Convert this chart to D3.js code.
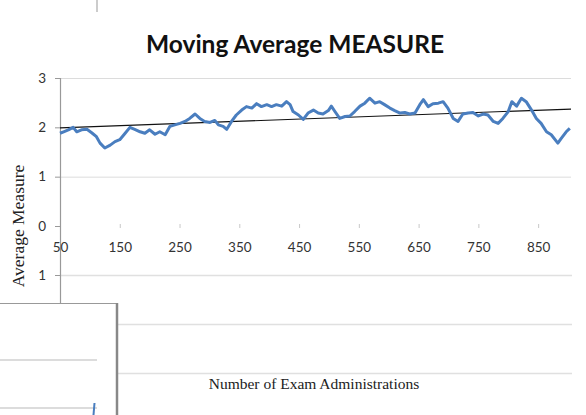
<!DOCTYPE html>
<html>
<head>
<meta charset="utf-8">
<script src="https://cdn.jsdelivr.net/npm/d3@7"></script>
<style>
  html, body { margin: 0; padding: 0; background: #fff; }
  svg { display: block; }
</style>
</head>
<body>
<svg id="chart" width="586" height="415"></svg>
<script>
// ---- data ----
const title = "Moving Average MEASURE";
const xTitle = "Number of Exam Administrations";
const yTitle = "Average Measure";
const xTicks = [50, 150, 250, 350, 450, 550, 650, 750, 850];
const yTicks = [0, 1, 2, 3];
const yGrid = [1, 3];
const lowerYTicks = [1];
const lowerGrid = [1, 0, -1];
const boxGrid = [0, -1];

const administrations = [50, 56, 64, 72, 78, 86, 95, 103, 111, 117, 125, 134, 142, 150, 159, 167, 175, 184, 192, 200,
  209, 217, 226, 234, 242, 251, 259, 267, 276, 284, 292, 301, 309, 315, 323, 329, 337, 345, 354, 362,
  371, 379, 387, 396, 404, 412, 421, 429, 435, 440, 449, 457, 465, 474, 482, 490, 499, 504, 510, 518,
  527, 535, 543, 552, 560, 568, 577, 585, 593, 602, 610, 619, 627, 635, 644, 652, 658, 666, 674, 683,
  691, 699, 708, 716, 724, 733, 741, 750, 758, 766, 775, 783, 791, 800, 806, 814, 822, 830, 839, 847,
  855, 864, 872, 881, 883, 889, 897, 903];
const movingAverage = [1.88, 1.91, 1.95, 2.00, 1.91, 1.95, 1.96, 1.89, 1.81, 1.68, 1.58, 1.64, 1.71, 1.75, 1.88, 2.00, 1.96, 1.91, 1.88, 1.95,
  1.86, 1.91, 1.85, 2.02, 2.05, 2.08, 2.12, 2.18, 2.27, 2.18, 2.12, 2.10, 2.14, 2.05, 2.02, 1.96, 2.12, 2.25, 2.35, 2.42,
  2.39, 2.48, 2.42, 2.46, 2.42, 2.46, 2.43, 2.52, 2.46, 2.32, 2.25, 2.16, 2.29, 2.35, 2.29, 2.27, 2.34, 2.43, 2.32, 2.18,
  2.22, 2.23, 2.32, 2.43, 2.49, 2.59, 2.49, 2.52, 2.46, 2.39, 2.34, 2.29, 2.30, 2.27, 2.29, 2.46, 2.56, 2.42, 2.48, 2.49,
  2.52, 2.39, 2.18, 2.12, 2.27, 2.29, 2.30, 2.23, 2.27, 2.25, 2.12, 2.08, 2.18, 2.32, 2.52, 2.43, 2.59, 2.52, 2.35, 2.18,
  2.08, 1.91, 1.85, 1.71, 1.68, 1.78, 1.91, 1.98];
const trendX = [50, 905];
const trendY = [1.99, 2.37];

// ---- drawing ----
const svg = d3.select("#chart");
const x = d3.scaleLinear().domain([50, 905]).range([60, 571]);
const y = d3.scaleLinear().domain([0, 3]).range([226, 78]);
const yLower = d3.scaleLinear().domain([-1, 1]).range([373, 275]);
const yBox = d3.scaleLinear().domain([-1, 0]).range([408, 360]);

const tickFont = "Lato, 'Open Sans', sans-serif";
const serif = "'Liberation Serif', 'DejaVu Serif', serif";

// title
svg.append("text")
  .attr("x", 295).attr("y", 53)
  .attr("text-anchor", "middle")
  .attr("font-family", tickFont)
  .attr("font-weight", "bold")
  .attr("font-size", 24.5)
  .attr("fill", "#111")
  .text(title);

// small stray line at top
svg.append("line").attr("x1", 97).attr("x2", 97).attr("y1", 0).attr("y2", 12)
  .attr("stroke", "#999").attr("stroke-width", 1);

// main gridlines
svg.append("g").selectAll("line").data(yGrid).join("line")
  .attr("x1", 60).attr("x2", 571)
  .attr("y1", d => y(d) + 0.5).attr("y2", d => y(d) + 0.5)
  .attr("stroke", "#dcdcdc").attr("stroke-width", 1);

// lower (overlapping) gridlines
svg.append("g").selectAll("line").data(lowerGrid).join("line")
  .attr("x1", d => d === 1 ? 60 : 118).attr("x2", 572)
  .attr("y1", d => yLower(d) + 0.5).attr("y2", d => yLower(d) + 0.5)
  .attr("stroke", "#e0e0e0").attr("stroke-width", 1.5);

// y axis
const yAxis = d3.axisLeft(y).tickValues(yTicks).tickSize(5).tickPadding(9).tickFormat(d3.format("d"));
const gy = svg.append("g").attr("transform", "translate(60,0)").call(yAxis);
gy.select(".domain").remove();
gy.selectAll(".tick line").attr("stroke", "#999");
gy.selectAll("text").attr("font-family", tickFont).attr("font-size", 13.5).attr("fill", "#333");

const yAxisLower = d3.axisLeft(yLower).tickValues(lowerYTicks).tickSize(5).tickPadding(9).tickFormat(d3.format("d"));
const gy2 = svg.append("g").attr("transform", "translate(60,0)").call(yAxisLower);
gy2.select(".domain").remove();
gy2.selectAll(".tick line").attr("stroke", "#999");
gy2.selectAll("text").attr("font-family", tickFont).attr("font-size", 13.5).attr("fill", "#333");

// axis line
svg.append("line").attr("x1", 60.5).attr("x2", 60.5).attr("y1", y(3)).attr("y2", 303)
  .attr("stroke", "#999").attr("stroke-width", 1.2);

// x axis
const xAxis = d3.axisBottom(x).tickValues(xTicks).tickSize(4).tickPadding(14).tickFormat(d3.format("d"));
const gx = svg.append("g").attr("transform", "translate(0,224)").call(xAxis);
gx.select(".domain").remove();
gx.selectAll(".tick line").attr("stroke", "#c8c8c8").attr("opacity", d => d === 50 ? 0 : 1);
gx.selectAll("text").attr("font-family", tickFont).attr("font-size", 13.5).attr("fill", "#333");

// trend line
svg.append("line")
  .attr("x1", x(trendX[0])).attr("y1", y(trendY[0]))
  .attr("x2", x(trendX[1])).attr("y2", y(trendY[1]))
  .attr("stroke", "#111").attr("stroke-width", 1.1);

// moving average line
const pts = administrations.map((a, i) => [a, movingAverage[i]]);
svg.append("path")
  .datum(pts)
  .attr("fill", "none")
  .attr("stroke", "#4a7ebf")
  .attr("stroke-width", 3)
  .attr("stroke-linejoin", "round")
  .attr("d", d3.line().x(d => x(d[0])).y(d => y(d[1])));

// axis titles
svg.append("text")
  .attr("transform", "translate(24,226) rotate(-90)")
  .attr("text-anchor", "middle")
  .attr("font-family", serif)
  .attr("font-size", 17.5)
  .attr("fill", "#222")
  .text(yTitle);

svg.append("text")
  .attr("x", 314).attr("y", 389)
  .attr("text-anchor", "middle")
  .attr("font-family", serif)
  .attr("font-size", 15.5)
  .attr("fill", "#222")
  .text(xTitle);

// overlapping box at lower left
svg.append("rect")
  .attr("x", -2).attr("y", 303.5).attr("width", 118.5).attr("height", 120)
  .attr("fill", "#fff").attr("stroke", "#999").attr("stroke-width", 1);
svg.append("line").attr("x1", 117).attr("x2", 117).attr("y1", 303).attr("y2", 415)
  .attr("stroke", "#888").attr("stroke-width", 2.5);
svg.append("g").selectAll("line").data(boxGrid).join("line")
  .attr("x1", 0).attr("x2", 97)
  .attr("y1", d => yBox(d)).attr("y2", d => yBox(d))
  .attr("stroke", "#d0d0d0").attr("stroke-width", 1.5);
svg.append("line").attr("x1", 94.5).attr("y1", 403).attr("x2", 93.5).attr("y2", 415)
  .attr("stroke", "#4a7ebf").attr("stroke-width", 2);
</script>
</body>
</html>
